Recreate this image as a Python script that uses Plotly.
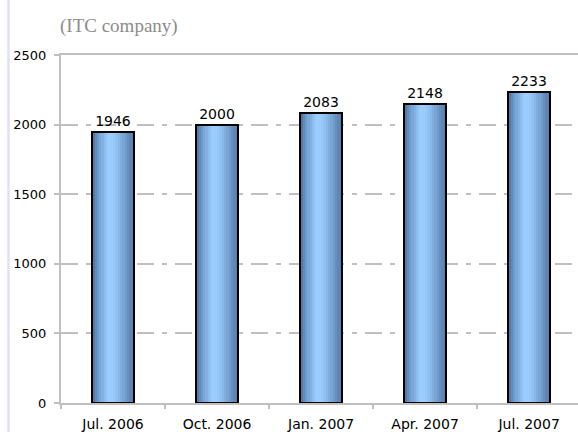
import numpy as np
import plotly.graph_objects as go

categories = ["Jul. 2006", "Oct. 2006", "Jan. 2007", "Apr. 2007", "Jul. 2007"]
values = [1946, 2000, 2083, 2148, 2233]
value_labels = ["1946", "2000", "2083", "2148", "2233"]
y_ticks = [0, 500, 1000, 1500, 2000, 2500]
title_text = "(ITC company)"

# horizontal gradient for the bar body (style only)
stop_pos = [0.0, 0.15, 0.4, 0.55, 0.8, 1.0]
stop_rgb = np.array([[78, 112, 158], [112, 158, 208], [156, 206, 255],
                     [150, 200, 250], [112, 156, 204], [84, 118, 164]], float)

bar_w = 0.40
n_strips = 18
sw = bar_w / n_strips

fig = go.Figure()
for i in range(n_strips):
    t = (i + 0.5) / n_strips
    rgb = [np.interp(t, stop_pos, stop_rgb[:, k]) for k in range(3)]
    color = "rgb(%d,%d,%d)" % tuple(int(round(c)) for c in rgb)
    fig.add_trace(go.Bar(
        x=categories, y=values,
        width=sw * 1.15 if i < n_strips - 1 else sw,
        offset=-bar_w / 2 + i * sw,
        marker=dict(color=color, line=dict(width=0)),
        showlegend=False, hoverinfo="skip",
    ))

fig.add_trace(go.Bar(
    x=categories, y=values,
    width=bar_w, offset=-bar_w / 2,
    marker=dict(color="rgba(0,0,0,0)", line=dict(color="black", width=2)),
    text=value_labels, textposition="outside", cliponaxis=False,
    textfont=dict(family="DejaVu Sans", size=14, color="black"),
    showlegend=False,
))

fig.update_layout(
    width=578, height=432,
    margin=dict(l=61, r=0, t=55, b=29, autoexpand=False),
    paper_bgcolor="white", plot_bgcolor="white",
    barmode="overlay",
    bargap=0,
    font=dict(family="DejaVu Sans", size=13, color="black"),
    annotations=[dict(
        text=title_text, xref="paper", yref="paper",
        x=0.0, y=1.0, xanchor="left", yanchor="bottom", yshift=16,
        xshift=-3,
        showarrow=False,
        font=dict(family="Liberation Serif", size=19, color="#8c8c8c"),
    )],
    shapes=[dict(
        type="line", xref="paper", yref="paper",
        x0=-52.5 / 517, x1=-52.5 / 517, y0=-29 / 348, y1=1 + 55 / 348,
        line=dict(color="#e0e0f8", width=2.5),
    )],
)

fig.update_xaxes(
    type="category", range=[-0.5, 4.47], automargin=False,
    showline=True, linecolor="#c0c0c0", linewidth=2, mirror=True,
    showgrid=False, zeroline=False,
    ticks="outside", tickson="boundaries", ticklen=4, tickcolor="#c0c0c0",
    tickwidth=2, ticklabelstandoff=7,
    tickfont=dict(family="DejaVu Sans", size=14, color="black"),
)
fig.update_yaxes(
    range=[0, 2500], tickvals=y_ticks, automargin=False,
    showline=True, linecolor="#c0c0c0", linewidth=2,
    showgrid=True, gridcolor="#c0c0c0", gridwidth=2,
    griddash="17px,8px,5px,8px",
    zeroline=False,
    ticks="outside", ticklen=5, tickcolor="#c0c0c0", tickwidth=2,
    ticklabelstandoff=5,
    tickfont=dict(family="DejaVu Sans", size=13, color="black"),
)

fig.write_html("out.html", config={"displayModeBar": False},
               post_script="document.body.style.margin='0';")
